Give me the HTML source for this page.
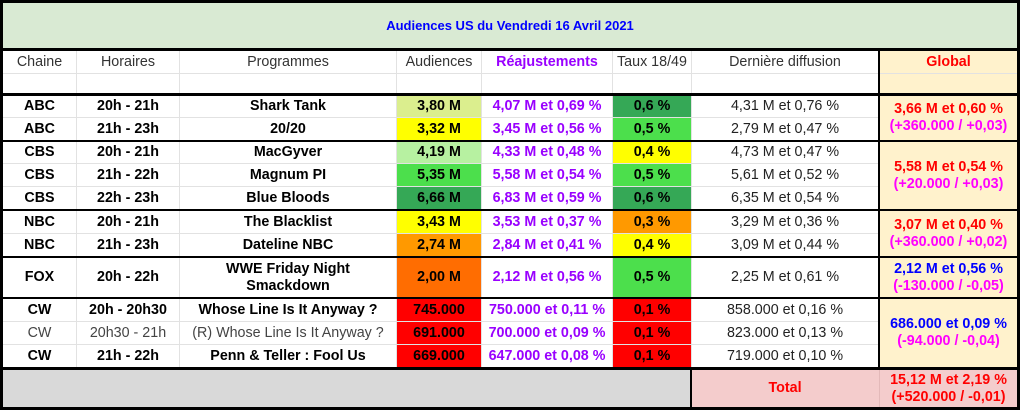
<!DOCTYPE html>
<html><head><meta charset="utf-8"><style>
body{margin:0;width:1022px;height:413px;position:relative;overflow:hidden;background:#fff;font-family:"Liberation Sans",Arial,sans-serif;font-size:14.3px}
.a{position:absolute}
.c{position:absolute;display:flex;flex-direction:column;align-items:center;justify-content:center;text-align:center;line-height:17px;white-space:nowrap}
.b{font-weight:bold;color:#000}
.r{color:#222}
.h{color:#333}
.p{color:#9900ff;font-weight:bold}
.k{position:absolute;background:#000}
.g{position:absolute;background:#e2e2e2}
.red{color:#ff0000;font-weight:bold}
.mag{color:#ff00ff;font-weight:bold}
.blu{color:#0000ff;font-weight:bold}
</style></head><body>
<!-- backgrounds -->
<div class="a" style="left:3px;top:3px;width:1014px;height:45px;background:#d9ead3"></div>
<div class="a" style="left:880px;top:51px;width:137px;height:316px;background:#fff2cc"></div>
<div class="a" style="left:3px;top:370px;width:687px;height:37px;background:#d9d9d9"></div>
<div class="a" style="left:692px;top:370px;width:325px;height:37px;background:#f4cccc"></div>
<div class="a" style="left:879px;top:370px;width:1px;height:37px;background:#e3b9b9"></div>

<!-- thin gridlines -->
<div class="g" style="left:3px;top:73px;width:1014px;height:1px"></div>
<div class="g" style="left:3px;top:117px;width:875px;height:1px"></div>
<div class="g" style="left:3px;top:163px;width:875px;height:1px"></div>
<div class="g" style="left:3px;top:186px;width:875px;height:1px"></div>
<div class="g" style="left:3px;top:233px;width:875px;height:1px"></div>
<div class="g" style="left:3px;top:321px;width:875px;height:1px"></div>
<div class="g" style="left:3px;top:344px;width:875px;height:1px"></div>
<div class="g" style="left:76px;top:51px;width:1px;height:316px"></div>
<div class="g" style="left:179px;top:51px;width:1px;height:316px"></div>
<div class="g" style="left:396px;top:51px;width:1px;height:316px"></div>
<div class="g" style="left:481px;top:51px;width:1px;height:316px"></div>
<div class="g" style="left:612px;top:51px;width:1px;height:316px"></div>
<div class="g" style="left:691px;top:51px;width:1px;height:316px"></div>

<!-- colored cells: audiences -->
<div class="a" style="left:397px;top:96px;width:84px;height:21px;background:#dbee8e"></div>
<div class="a" style="left:397px;top:118px;width:84px;height:22px;background:#ffff00"></div>
<div class="a" style="left:397px;top:142px;width:84px;height:21px;background:#b7f1a1"></div>
<div class="a" style="left:397px;top:164px;width:84px;height:22px;background:#4cdf4c"></div>
<div class="a" style="left:397px;top:187px;width:84px;height:22px;background:#35a856"></div>
<div class="a" style="left:397px;top:211px;width:84px;height:22px;background:#ffff00"></div>
<div class="a" style="left:397px;top:234px;width:84px;height:22px;background:#ff9900"></div>
<div class="a" style="left:397px;top:258px;width:84px;height:39px;background:#ff6d01"></div>
<div class="a" style="left:397px;top:299px;width:84px;height:22px;background:#ff0000"></div>
<div class="a" style="left:397px;top:322px;width:84px;height:22px;background:#ff0000"></div>
<div class="a" style="left:397px;top:345px;width:84px;height:22px;background:#ff0000"></div>
<!-- colored cells: taux -->
<div class="a" style="left:613px;top:96px;width:78px;height:21px;background:#35a856"></div>
<div class="a" style="left:613px;top:118px;width:78px;height:22px;background:#4cdf4c"></div>
<div class="a" style="left:613px;top:142px;width:78px;height:21px;background:#ffff00"></div>
<div class="a" style="left:613px;top:164px;width:78px;height:22px;background:#4cdf4c"></div>
<div class="a" style="left:613px;top:187px;width:78px;height:22px;background:#35a856"></div>
<div class="a" style="left:613px;top:211px;width:78px;height:22px;background:#ff9900"></div>
<div class="a" style="left:613px;top:234px;width:78px;height:22px;background:#ffff00"></div>
<div class="a" style="left:613px;top:258px;width:78px;height:39px;background:#4cdf4c"></div>
<div class="a" style="left:613px;top:299px;width:78px;height:22px;background:#ff0000"></div>
<div class="a" style="left:613px;top:322px;width:78px;height:22px;background:#ff0000"></div>
<div class="a" style="left:613px;top:345px;width:78px;height:22px;background:#ff0000"></div>

<!-- thick lines -->
<div class="k" style="left:0;top:0;width:1020px;height:3px"></div>
<div class="k" style="left:0;top:407px;width:1020px;height:3px"></div>
<div class="k" style="left:0;top:0;width:3px;height:410px"></div>
<div class="k" style="left:1017px;top:0;width:3px;height:410px"></div>
<div class="k" style="left:0;top:48px;width:1020px;height:3px"></div>
<div class="k" style="left:0;top:93px;width:1020px;height:3px"></div>
<div class="k" style="left:0;top:140px;width:1020px;height:2px"></div>
<div class="k" style="left:0;top:209px;width:1020px;height:2px"></div>
<div class="k" style="left:0;top:256px;width:1020px;height:2px"></div>
<div class="k" style="left:0;top:297px;width:1020px;height:2px"></div>
<div class="k" style="left:0;top:367px;width:1020px;height:3px"></div>
<div class="k" style="left:878px;top:51px;width:2px;height:316px"></div>
<div class="k" style="left:690px;top:370px;width:2px;height:37px"></div>

<!-- title -->
<div class="c blu" style="left:3px;top:3px;width:1014px;height:45px;font-size:13px">Audiences US du Vendredi 16 Avril 2021</div>

<!-- header -->
<div class="c h" style="left:3px;top:51px;width:73px;height:22px">Chaine</div>
<div class="c h" style="left:77px;top:51px;width:102px;height:22px">Horaires</div>
<div class="c h" style="left:180px;top:51px;width:216px;height:22px">Programmes</div>
<div class="c h" style="left:397px;top:51px;width:84px;height:22px">Audiences</div>
<div class="c p" style="left:482px;top:51px;width:130px;height:22px">Réajustements</div>
<div class="c h" style="left:613px;top:51px;width:78px;height:22px">Taux 18/49</div>
<div class="c h" style="left:692px;top:51px;width:186px;height:22px">Dernière diffusion</div>
<div class="c red" style="left:880px;top:51px;width:137px;height:22px">Global</div>

<!-- rows -->
<div class="c b" style="left:3px;top:96px;width:73px;height:21px">ABC</div>
<div class="c b" style="left:77px;top:96px;width:102px;height:21px">20h - 21h</div>
<div class="c b" style="left:180px;top:96px;width:216px;height:21px">Shark Tank</div>
<div class="c b" style="left:397px;top:96px;width:84px;height:21px">3,80 M</div>
<div class="c p" style="left:482px;top:96px;width:130px;height:21px">4,07 M et 0,69 %</div>
<div class="c b" style="left:613px;top:96px;width:78px;height:21px">0,6 %</div>
<div class="c r" style="left:692px;top:96px;width:186px;height:21px">4,31 M et 0,76 %</div>

<div class="c b" style="left:3px;top:118px;width:73px;height:22px">ABC</div>
<div class="c b" style="left:77px;top:118px;width:102px;height:22px">21h - 23h</div>
<div class="c b" style="left:180px;top:118px;width:216px;height:22px">20/20</div>
<div class="c b" style="left:397px;top:118px;width:84px;height:22px">3,32 M</div>
<div class="c p" style="left:482px;top:118px;width:130px;height:22px">3,45 M et 0,56 %</div>
<div class="c b" style="left:613px;top:118px;width:78px;height:22px">0,5 %</div>
<div class="c r" style="left:692px;top:118px;width:186px;height:22px">2,79 M et 0,47 %</div>

<div class="c b" style="left:3px;top:142px;width:73px;height:21px">CBS</div>
<div class="c b" style="left:77px;top:142px;width:102px;height:21px">20h - 21h</div>
<div class="c b" style="left:180px;top:142px;width:216px;height:21px">MacGyver</div>
<div class="c b" style="left:397px;top:142px;width:84px;height:21px">4,19 M</div>
<div class="c p" style="left:482px;top:142px;width:130px;height:21px">4,33 M et 0,48 %</div>
<div class="c b" style="left:613px;top:142px;width:78px;height:21px">0,4 %</div>
<div class="c r" style="left:692px;top:142px;width:186px;height:21px">4,73 M et 0,47 %</div>

<div class="c b" style="left:3px;top:164px;width:73px;height:22px">CBS</div>
<div class="c b" style="left:77px;top:164px;width:102px;height:22px">21h - 22h</div>
<div class="c b" style="left:180px;top:164px;width:216px;height:22px">Magnum PI</div>
<div class="c b" style="left:397px;top:164px;width:84px;height:22px">5,35 M</div>
<div class="c p" style="left:482px;top:164px;width:130px;height:22px">5,58 M et 0,54 %</div>
<div class="c b" style="left:613px;top:164px;width:78px;height:22px">0,5 %</div>
<div class="c r" style="left:692px;top:164px;width:186px;height:22px">5,61 M et 0,52 %</div>

<div class="c b" style="left:3px;top:187px;width:73px;height:22px">CBS</div>
<div class="c b" style="left:77px;top:187px;width:102px;height:22px">22h - 23h</div>
<div class="c b" style="left:180px;top:187px;width:216px;height:22px">Blue Bloods</div>
<div class="c b" style="left:397px;top:187px;width:84px;height:22px">6,66 M</div>
<div class="c p" style="left:482px;top:187px;width:130px;height:22px">6,83 M et 0,59 %</div>
<div class="c b" style="left:613px;top:187px;width:78px;height:22px">0,6 %</div>
<div class="c r" style="left:692px;top:187px;width:186px;height:22px">6,35 M et 0,54 %</div>

<div class="c b" style="left:3px;top:211px;width:73px;height:22px">NBC</div>
<div class="c b" style="left:77px;top:211px;width:102px;height:22px">20h - 21h</div>
<div class="c b" style="left:180px;top:211px;width:216px;height:22px">The Blacklist</div>
<div class="c b" style="left:397px;top:211px;width:84px;height:22px">3,43 M</div>
<div class="c p" style="left:482px;top:211px;width:130px;height:22px">3,53 M et 0,37 %</div>
<div class="c b" style="left:613px;top:211px;width:78px;height:22px">0,3 %</div>
<div class="c r" style="left:692px;top:211px;width:186px;height:22px">3,29 M et 0,36 %</div>

<div class="c b" style="left:3px;top:234px;width:73px;height:22px">NBC</div>
<div class="c b" style="left:77px;top:234px;width:102px;height:22px">21h - 23h</div>
<div class="c b" style="left:180px;top:234px;width:216px;height:22px">Dateline NBC</div>
<div class="c b" style="left:397px;top:234px;width:84px;height:22px">2,74 M</div>
<div class="c p" style="left:482px;top:234px;width:130px;height:22px">2,84 M et 0,41 %</div>
<div class="c b" style="left:613px;top:234px;width:78px;height:22px">0,4 %</div>
<div class="c r" style="left:692px;top:234px;width:186px;height:22px">3,09 M et 0,44 %</div>

<div class="c b" style="left:3px;top:258px;width:73px;height:39px">FOX</div>
<div class="c b" style="left:77px;top:258px;width:102px;height:39px">20h - 22h</div>
<div class="c b" style="left:180px;top:258px;width:216px;height:39px"><span>WWE Friday Night</span><span>Smackdown</span></div>
<div class="c b" style="left:397px;top:258px;width:84px;height:39px">2,00 M</div>
<div class="c p" style="left:482px;top:258px;width:130px;height:39px">2,12 M et 0,56 %</div>
<div class="c b" style="left:613px;top:258px;width:78px;height:39px">0,5 %</div>
<div class="c r" style="left:692px;top:258px;width:186px;height:39px">2,25 M et 0,61 %</div>

<div class="c b" style="left:3px;top:299px;width:73px;height:22px">CW</div>
<div class="c b" style="left:77px;top:299px;width:102px;height:22px">20h - 20h30</div>
<div class="c b" style="left:180px;top:299px;width:216px;height:22px">Whose Line Is It Anyway ?</div>
<div class="c b" style="left:397px;top:299px;width:84px;height:22px">745.000</div>
<div class="c p" style="left:482px;top:299px;width:130px;height:22px">750.000 et 0,11 %</div>
<div class="c b" style="left:613px;top:299px;width:78px;height:22px">0,1 %</div>
<div class="c r" style="left:692px;top:299px;width:186px;height:22px">858.000 et 0,16 %</div>

<div class="c" style="left:3px;top:322px;width:73px;height:22px;color:#444">CW</div>
<div class="c" style="left:77px;top:322px;width:102px;height:22px;color:#444">20h30 - 21h</div>
<div class="c" style="left:180px;top:322px;width:216px;height:22px;color:#444">(R) Whose Line Is It Anyway ?</div>
<div class="c b" style="left:397px;top:322px;width:84px;height:22px">691.000</div>
<div class="c p" style="left:482px;top:322px;width:130px;height:22px">700.000 et 0,09 %</div>
<div class="c b" style="left:613px;top:322px;width:78px;height:22px">0,1 %</div>
<div class="c r" style="left:692px;top:322px;width:186px;height:22px">823.000 et 0,13 %</div>

<div class="c b" style="left:3px;top:345px;width:73px;height:22px">CW</div>
<div class="c b" style="left:77px;top:345px;width:102px;height:22px">21h - 22h</div>
<div class="c b" style="left:180px;top:345px;width:216px;height:22px">Penn &amp; Teller : Fool Us</div>
<div class="c b" style="left:397px;top:345px;width:84px;height:22px">669.000</div>
<div class="c p" style="left:482px;top:345px;width:130px;height:22px">647.000 et 0,08 %</div>
<div class="c b" style="left:613px;top:345px;width:78px;height:22px">0,1 %</div>
<div class="c r" style="left:692px;top:345px;width:186px;height:22px">719.000 et 0,10 %</div>

<!-- global column -->
<div class="c" style="left:880px;top:96px;width:137px;height:44px"><span class="red">3,66 M et 0,60 %</span><span class="mag">(+360.000 / +0,03)</span></div>
<div class="c" style="left:880px;top:142px;width:137px;height:67px"><span class="red">5,58 M et 0,54 %</span><span class="mag">(+20.000 / +0,03)</span></div>
<div class="c" style="left:880px;top:211px;width:137px;height:45px"><span class="red">3,07 M et 0,40 %</span><span class="mag">(+360.000 / +0,02)</span></div>
<div class="c" style="left:880px;top:258px;width:137px;height:39px"><span class="blu">2,12 M et 0,56 %</span><span class="mag">(-130.000 / -0,05)</span></div>
<div class="c" style="left:880px;top:299px;width:137px;height:68px"><span class="blu">686.000 et 0,09 %</span><span class="mag">(-94.000 / -0,04)</span></div>

<!-- total -->
<div class="c red" style="left:692px;top:370px;width:186px;height:37px">Total</div>
<div class="c" style="left:880px;top:370px;width:137px;height:37px"><span class="red">15,12 M et 2,19 %</span><span class="red">(+520.000 / -0,01)</span></div>
</body></html>
